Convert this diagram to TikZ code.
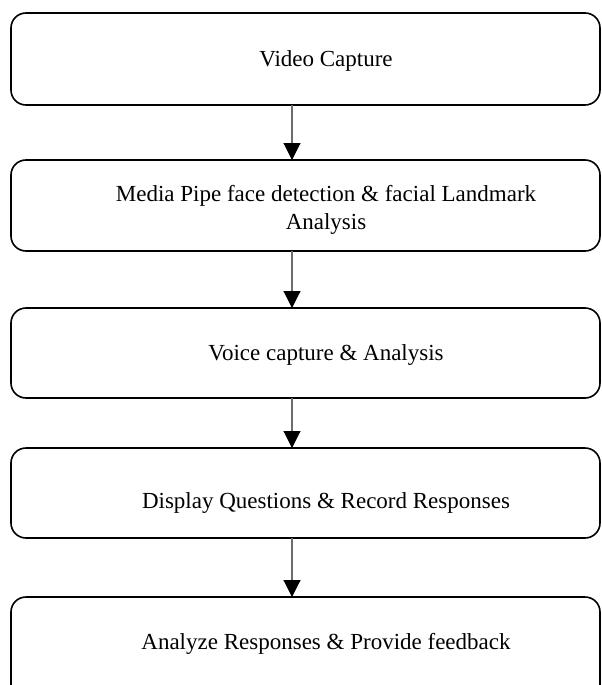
\documentclass[tikz,border=0pt]{standalone}
\usepackage{fontspec}
\setmainfont{Liberation Serif}
\usetikzlibrary{arrows.meta}
\begin{document}
\begin{tikzpicture}[x=1pt,y=-1pt,
  box/.style={draw=black,line width=1.6pt,rounded corners=15pt},
  txt/.style={font=\fontsize{23}{27.5}\selectfont,align=center,inner sep=0pt},
  arr/.style={draw=gray!85!black,line width=1.1pt,-{Triangle[length=17pt,width=17pt,color=black]}}]
\useasboundingbox (0,0) rectangle (602,685);
\draw[box] (11,13) rectangle (600,105);
\coordinate (b1s) at (292,105);
\node[txt] (t1) at (326,61) {Video Capture};
\draw[box] (11,160) rectangle (600,251);
\coordinate (b2n) at (292,160); \coordinate (b2s) at (292,251);
\node[txt] (t2) at (326,210) {Media Pipe face detection \& facial Landmark\\Analysis};
\draw[box] (11,308) rectangle (600,398);
\coordinate (b3n) at (292,308); \coordinate (b3s) at (292,398);
\node[txt] (t3) at (326,355) {Voice capture \& Analysis};
\draw[box] (11,448) rectangle (600,538);
\coordinate (b4n) at (292,448); \coordinate (b4s) at (292,538);
\node[txt] (t4) at (326,503) {Display Questions \& Record Responses};
\draw[box] (11,597) rectangle (600,700);
\coordinate (b5n) at (292,597);
\node[txt] (t5) at (326,644) {Analyze Responses \& Provide feedback};
\draw[arr] (b1s) -- (b2n);
\draw[arr] (b2s) -- (b3n);
\draw[arr] (b3s) -- (b4n);
\draw[arr] (b4s) -- (b5n);
\end{tikzpicture}
\end{document}
